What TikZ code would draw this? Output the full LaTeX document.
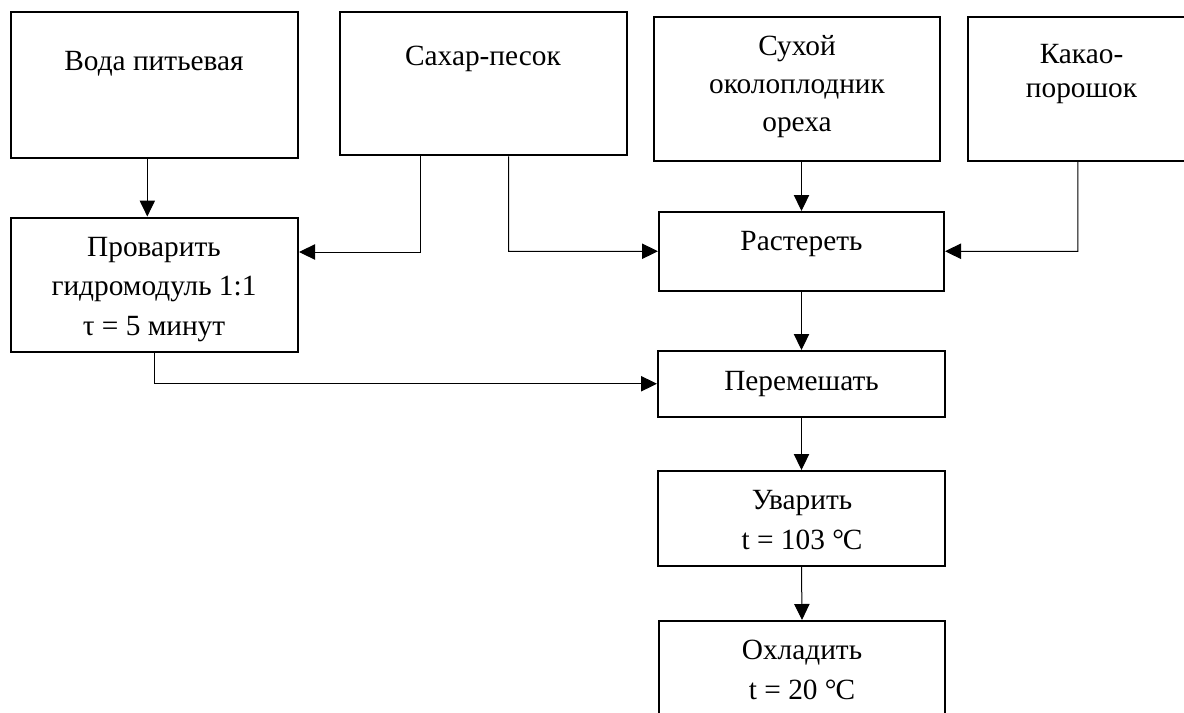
\documentclass[tikz,border=0pt]{standalone}
\usepackage{fontspec}
\setmainfont{Liberation Serif}
\usetikzlibrary{arrows.meta,fit}
\begin{document}
\begin{tikzpicture}[x=0.75pt,y=-0.75pt,
  box/.style={draw, line width=1.5pt, inner sep=0pt, rectangle},
  txt/.style={inner sep=0pt, align=center, anchor=base, font=\fontsize{22pt}{29.5pt}\selectfont},
  arr/.style={line width=0.75pt, -{Triangle[length=12pt,width=11.5pt]}}]
\useasboundingbox (0,0) rectangle (1184,713);
\clip (0,0) rectangle (1184,713);
% boxes
\node[box, fit={(10.5,12) (298,158.5)}] (b1) {};
\node[box, fit={(339.5,12) (626.5,155.5)}] (b2) {};
\node[box, fit={(654,16.7) (940,160.7)}] (b3) {};
\node[box, fit={(968,16.7) (1195,160.7)}] (b4) {};
\node[box, fit={(10.5,217.5) (298,351.5)}] (b5) {};
\node[box, fit={(659,212) (944,290.5)}] (b6) {};
\node[box, fit={(658,351) (945,416.5)}] (b7) {};
\node[box, fit={(658,471) (945,566)}] (b8) {};
\node[box, fit={(659,621) (945,760)}] (b9) {};
% texts (anchor base = baseline of the last line)
\node[txt] (t1) at (154,70.7) {Вода питьевая};
\node[txt] (t2) at (483,66) {Сахар-песок};
\node[txt, font=\fontsize{22pt}{28.7pt}\selectfont] (t3) at (797,131.7) {Сухой\\околоплодник\\ореха};
\node[txt, font=\fontsize{22pt}{25.5pt}\selectfont] (t4) at (1081.5,97.3) {Какао-\\порошок};
\node[txt] (t5) at (154,335) {Проварить\\гидромодуль 1:1\\τ = 5 минут};
\node[txt] (t6) at (801.5,250.7) {Растереть};
\node[txt] (t7) at (801.5,390) {Перемешать};
\node[txt] (t8) at (802,549) {Уварить\\t = 103 °\kern-0.04em C};
\node[txt] (t9) at (802,699.3) {Охладить\\t = 20 °\kern-0.04em C};
% junctions
\coordinate (j1) at (420.7,252);
\coordinate (j2) at (508.7,251.3);
\coordinate (j3) at (1077.8,251.3);
% connectors
\draw[arr] ([xshift=-5.2pt]b1.south) -- ([xshift=-5.2pt]b1.south |- b5.north);
\draw[arr] (b2.south -| j1) -- (j1) -- (j1 -| b5.east);
\draw[arr] (b2.south -| j2) -- (j2) -- (b6.west);
\draw[arr] (b3.south -| b6.north) -- (b6.north);
\draw[arr] (b4.south -| j3) -- (j3) -- (b6.east);
\draw[arr] (b6.south) -- (b7.north);
\draw[arr] (b5.south) |- (b7.west);
\draw[arr] (b7.south) -- (b8.north);
\draw[arr] (b8.south) -- (b9.north);
\end{tikzpicture}
\end{document}
